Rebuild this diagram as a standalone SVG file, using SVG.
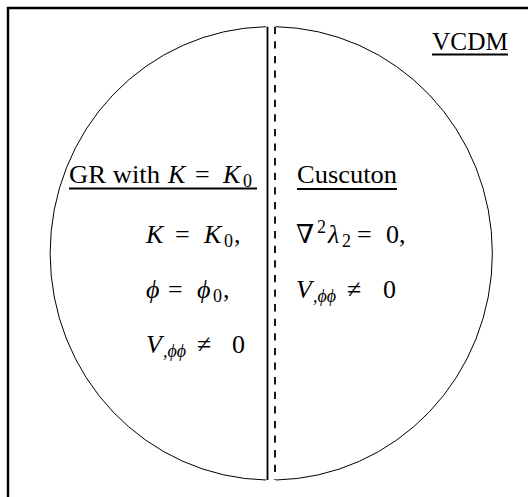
<svg xmlns="http://www.w3.org/2000/svg" width="528" height="497" viewBox="0 0 528 497">
<style>
.t{font-family:"Liberation Serif","DejaVu Serif",serif;font-size:25px;fill:#000}
.m{font-size:26px}
.i{font-style:italic}
.s{font-size:18px}
.arc{fill:none;stroke:#000;stroke-width:1}
.ul{stroke:#000;stroke-width:1.8}
</style>
<rect width="528" height="497" fill="#fff"/>
<g id="frame" fill="none" stroke="#000" stroke-width="2.4">
<path d="M8,497 V8 H530"/>
</g>
<g id="left-region">
<path class="arc" d="M266,26.7 A220.5 226.7 0 0 0 266,480"/>
<text class="t" x="69" y="183" textLength="91" lengthAdjust="spacingAndGlyphs">GR with</text>
<text class="t m i" x="168" y="183">K</text>
<text class="t m" x="195" y="183">=</text>
<text class="t m i" x="223" y="183">K</text>
<text class="t s" x="243" y="187">0</text>
<line class="ul" x1="69" y1="188.5" x2="257" y2="188.5"/>
<text class="t m i" x="146" y="243">K</text>
<text class="t m" x="175" y="243">=</text>
<text class="t m i" x="204" y="243">K</text>
<text class="t s" x="224" y="247">0</text>
<text class="t m" x="234" y="243">,</text>
<text class="t m i" x="146" y="298">ϕ</text>
<text class="t m" x="168" y="298">=</text>
<text class="t m i" x="197" y="298">ϕ</text>
<text class="t s" x="213" y="302">0</text>
<text class="t m" x="223" y="298">,</text>
<text class="t m i" x="146" y="353">V</text>
<text class="t s i" x="163" y="357">,ϕϕ</text>
<text class="t m" x="197" y="353">≠</text>
<text class="t m" x="232" y="353">0</text>
</g>
<g id="right-region">
<path class="arc" d="M276,26.7 A221 226.7 0 0 1 276,480"/>
<text class="t" x="297" y="183" textLength="100" lengthAdjust="spacingAndGlyphs">Cuscuton</text>
<line class="ul" x1="297" y1="189" x2="397" y2="189"/>
<text class="t m" x="296" y="243">∇</text>
<text class="t s" x="317" y="233">2</text>
<text class="t m i" x="328" y="243">λ</text>
<text class="t s" x="342" y="247">2</text>
<text class="t m" x="357" y="243">=</text>
<text class="t m" x="386" y="243">0</text>
<text class="t m" x="399" y="243">,</text>
<text class="t m i" x="296" y="298">V</text>
<text class="t s i" x="313" y="302">,ϕϕ</text>
<text class="t m" x="347" y="298">≠</text>
<text class="t m" x="383" y="298">0</text>
</g>
<g id="title">
<text class="t" x="432" y="50" textLength="76" lengthAdjust="spacingAndGlyphs">VCDM</text>
<line class="ul" x1="432" y1="54.5" x2="508" y2="54.5"/>
</g>
<g id="connectors" stroke="#000" stroke-width="1.8" fill="none">
<line x1="267.5" y1="26.7" x2="267.5" y2="480"/>
<line x1="275" y1="26.7" x2="275" y2="480" stroke-dasharray="7.3 7.3"/>
</g>
</svg>
